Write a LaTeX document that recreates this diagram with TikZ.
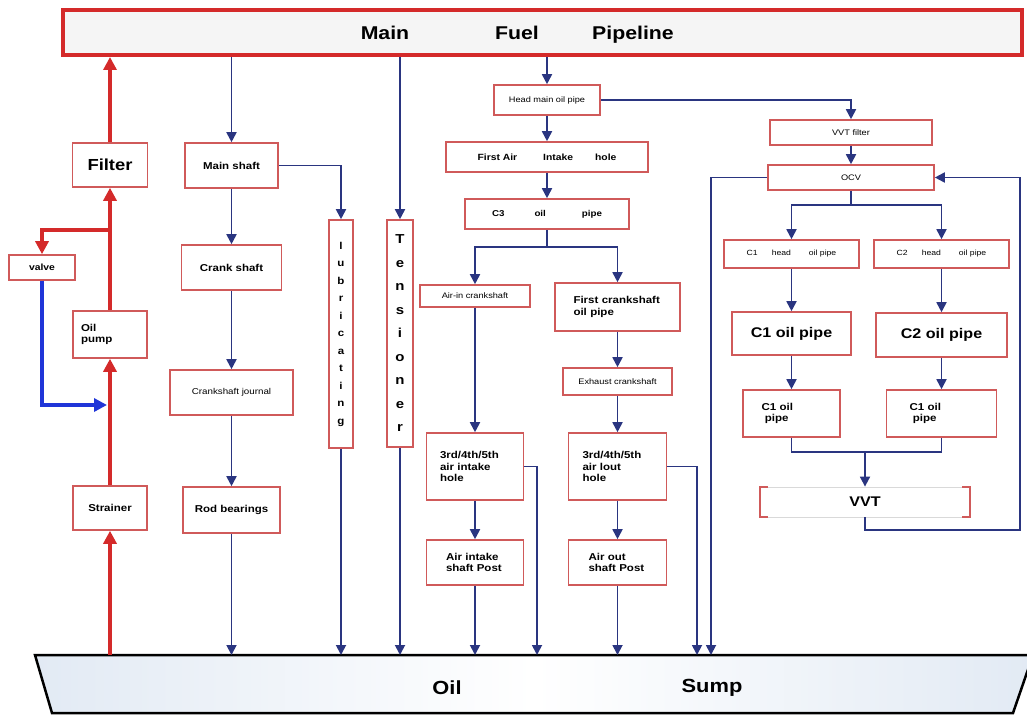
\documentclass[tikz,border=0pt]{standalone}
\usepackage{fontspec}
\setmainfont{Liberation Sans}
\newfontfamily\wide{Liberation Sans}[FakeStretch=1.15]
\usetikzlibrary{arrows.meta}
\definecolor{boxred}{HTML}{D05A5A}
\definecolor{pipered}{HTML}{D42A2A}
\definecolor{navy}{HTML}{2A3580}
\definecolor{flowblue}{HTML}{1F35D8}
\definecolor{sumpblue}{HTML}{E2EAF4}
\begin{document}
\begin{tikzpicture}[x=1pt,y=-1pt,
  box/.style={draw=boxred,line width=1.6pt,fill=white,rectangle,inner sep=2pt,
    font=\wide\bfseries\fontsize{10}{11.5}\selectfont,align=center},
  sz/.style 2 args={minimum width=#1pt,minimum height=#2pt},
  tinyt/.style={font=\wide\fontsize{8}{9}\selectfont},
  title/.style={font=\wide\bfseries\fontsize{18.5}{20}\selectfont,anchor=base},
  arr/.style={draw=navy,line width=1.8pt,-{Triangle[length=10pt,width=10pt]}},
  ln/.style={draw=navy,line width=1.8pt},
  redarr/.style={draw=pipered,line width=3.5pt,-{Triangle[length=13pt,width=13pt]}},
  bluearr/.style={draw=flowblue,line width=3.5pt,-{Triangle[length=13pt,width=13pt]}}]
\useasboundingbox (0,0) rectangle (1027,719);

% main pipeline
\node[draw=pipered,line width=4pt,fill=black!4,sz={959}{45}] (pipe) at (542.5,32.5) {};
\node[title] (t1) at (385,40) {Main};
\node[title] (t2) at (517,40) {Fuel};
\node[title] (t3) at (633,40) {Pipeline};

% oil sump
\coordinate (sumpL) at (0,655);
\path[draw=black,line width=2.5pt,left color=sumpblue,right color=sumpblue,middle color=white]
  (35,655) -- (1033,655) -- (1013,713) -- (52,713) -- cycle;
\node[font=\wide\bfseries\fontsize{19}{21}\selectfont] (oil) at (447,688) {Oil};
\node[font=\wide\bfseries\fontsize{19}{21}\selectfont] (sump) at (712,688) {Sump};

% left column
\node[box,sz={75}{44},font=\wide\bfseries\fontsize{16}{18}\selectfont] (filter) at (110,165) {Filter};
\node[box,sz={66}{25},font=\wide\bfseries\fontsize{9}{10}\selectfont] (valve) at (42,267.5) {valve};
\node[box,sz={74}{47},text width=58pt,align=left] (pump) at (110,334.5) {Oil\\pump};
\node[box,sz={74}{44}] (strainer) at (110,508) {Strainer};

% shaft column
\node[box,sz={93}{45}] (ms) at (231.5,165.5) {Main shaft};
\node[box,sz={100}{45}] (crank) at (231.5,267.5) {Crank shaft};
\node[box,sz={123}{45},font=\wide\fontsize{8.5}{10}\selectfont] (jour) at (231.5,392.5) {Crankshaft journal};
\node[box,sz={97}{46}] (rod) at (231.5,510) {Rod bearings};
\node[box,sz={24}{228},font=\wide\bfseries\fontsize{10}{17.5}\selectfont] (lub) at (341,334)
  {l\\u\\b\\r\\i\\c\\a\\t\\i\\n\\g};
\node[box,sz={26}{227},font=\wide\bfseries\fontsize{13}{23.5}\selectfont] (tens) at (400,333.5)
  {T\\e\\n\\s\\i\\o\\n\\e\\r};

% middle column
\node[box,sz={106}{30},tinyt] (head) at (547,100) {Head main oil pipe};
\node[box,sz={202}{30},font=\wide\bfseries\fontsize{9}{10}\selectfont] (fa) at (547,157)
  {First Air\hspace{26pt}Intake\hspace{22pt}hole};
\node[box,sz={164}{30},font=\wide\bfseries\fontsize{8.5}{10}\selectfont] (c3) at (547,214)
  {C3\hspace{30pt}oil\hspace{36pt}pipe};
\node[box,sz={110}{22},tinyt] (airin) at (475,296) {Air-in crankshaft};
\node[box,sz={125}{48},text width=88pt,align=left] (fc) at (617.5,307) {First crankshaft\\oil pipe};
\node[box,sz={109}{27},tinyt] (exh) at (617.5,381.5) {Exhaust crankshaft};
\node[box,sz={97}{67},text width=70pt,align=left] (int3) at (475,466.5) {3rd/4th/5th\\air intake\\hole};
\node[box,sz={98}{67},text width=70pt,align=left] (out3) at (617.5,466.5) {3rd/4th/5th\\air lout\\hole};
\node[box,sz={97}{45},text width=58pt,align=left] (ipost) at (475,562.5) {Air intake\\shaft Post};
\node[box,sz={98}{45},text width=58pt,align=left] (opost) at (617.5,562.5) {Air out\\shaft Post};

% right column
\node[box,sz={162}{25},tinyt] (vvtf) at (851,132.5) {VVT filter};
\node[box,sz={166}{25},tinyt] (ocv) at (851,177.5) {OCV};
\node[box,sz={135}{28},font=\wide\fontsize{7.5}{9}\selectfont] (c1h) at (791.5,254)
  {C1\hspace{14pt}head\hspace{18pt}oil pipe};
\node[box,sz={135}{28},font=\wide\fontsize{7.5}{9}\selectfont] (c2h) at (941.5,254)
  {C2\hspace{14pt}head\hspace{18pt}oil pipe};
\node[box,sz={119}{43},font=\wide\bfseries\fontsize{14}{16}\selectfont] (c1p) at (791.5,333.5) {C1 oil pipe};
\node[box,sz={131}{44},font=\wide\bfseries\fontsize{14}{16}\selectfont] (c2p) at (941.5,335) {C2 oil pipe};
\node[box,sz={97}{47},text width=60pt,align=left] (c1s) at (791.5,413.5) {C1 oil\\\ pipe};
\node[box,sz={110}{47},text width=64pt,align=left] (c2s) at (941.5,413.5) {C1 oil\\\ pipe};
\node[draw=black!15,line width=0.8pt,fill=white,sz={210}{30},font=\wide\bfseries\fontsize{14}{16}\selectfont] (vvt) at (865,502) {VVT};
\draw[boxred,line width=2pt] ([xshift=8pt]vvt.north west) -- (vvt.north west) -- (vvt.south west) -- ([xshift=8pt]vvt.south west);
\draw[boxred,line width=2pt] ([xshift=-8pt]vvt.north east) -- (vvt.north east) -- (vvt.south east) -- ([xshift=-8pt]vvt.south east);

% red / blue flow on the left
\coordinate (br) at (110,230);
\coordinate (bj) at (107,405);
\draw[redarr] (strainer.south |- sumpL) -- (strainer.south);
\draw[redarr] (strainer.north) -- (pump.south);
\draw[redarr] (pump.north) -- (filter.south);
\draw[redarr] (filter.north) -- (filter.north |- pipe.south);
\draw[redarr] (br) -| (valve.north);
\draw[bluearr] (valve.south) |- (bj);

% shaft column connectors
\draw[arr] (ms.north |- pipe.south) -- (ms.north);
\draw[arr] (ms.south) -- (crank.north);
\draw[arr] (crank.south) -- (jour.north);
\draw[arr] (jour.south) -- (rod.north);
\draw[arr] (rod.south) -- (rod.south |- sumpL);
\draw[arr] (ms.east) -| (lub.north);
\draw[arr] (lub.south) -- (lub.south |- sumpL);
\draw[arr] (tens.north |- pipe.south) -- (tens.north);
\draw[arr] (tens.south) -- (tens.south |- sumpL);

% middle connectors
\coordinate (c3s) at (547,247);
\coordinate (d1) at (537,655);
\coordinate (d2) at (697,655);
\coordinate (d3) at (711,655);
\draw[arr] (head.north |- pipe.south) -- (head.north);
\draw[arr] (head.south) -- (fa.north);
\draw[arr] (fa.south) -- (c3.north);
\draw[ln] (c3.south) -- (c3s);
\draw[arr] (c3s) -| (airin.north);
\draw[arr] (c3s) -| (fc.north);
\draw[arr] (airin.south) -- (int3.north);
\draw[arr] (int3.south) -- (ipost.north);
\draw[arr] (ipost.south) -- (ipost.south |- sumpL);
\draw[arr] (fc.south) -- (exh.north);
\draw[arr] (exh.south) -- (out3.north);
\draw[arr] (out3.south) -- (opost.north);
\draw[arr] (opost.south) -- (opost.south |- sumpL);
\draw[arr] (int3.east) -| (d1);
\draw[arr] (out3.east) -| (d2);
\draw[arr] (ocv.west) -| (d3);

% right connectors
\coordinate (os) at (851,205);
\coordinate (m) at (865,452);
\coordinate (r) at (1020,530);
\draw[arr] (head.east) -| (vvtf.north);
\draw[arr] (vvtf.south) -- (ocv.north);
\draw[ln] (ocv.south) -- (os);
\draw[arr] (os) -| (c1h.north);
\draw[arr] (os) -| (c2h.north);
\draw[arr] (c1h.south) -- (c1p.north);
\draw[arr] (c1p.south) -- (c1s.north);
\draw[arr] (c2h.south) -- (c2p.north);
\draw[arr] (c2p.south) -- (c2s.north);
\draw[ln] (c1s.south) |- (c2s.south |- m) -- (c2s.south);
\draw[arr] (m) -- (m |- vvt.north);
\draw[arr] (vvt.south) |- (r) |- (ocv.east);
\end{tikzpicture}
\end{document}
